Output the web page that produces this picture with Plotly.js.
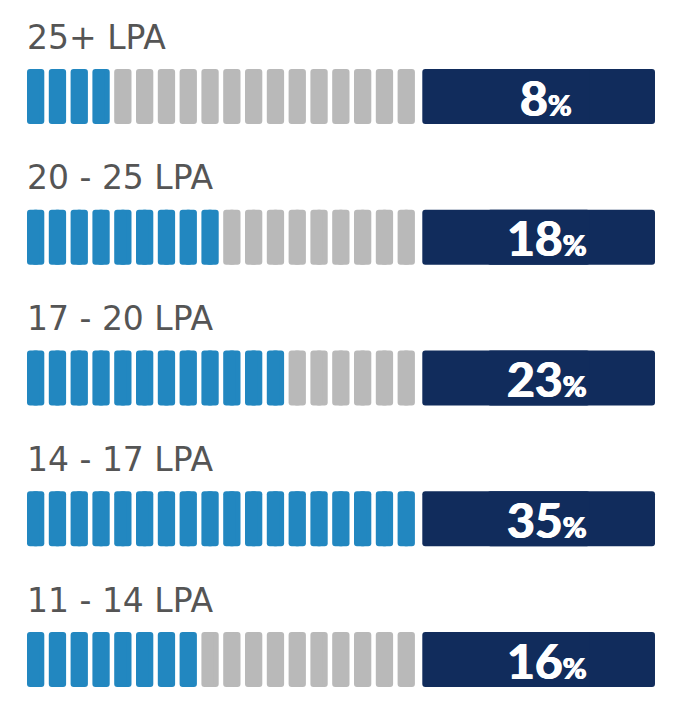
<!DOCTYPE html>
<html>
<head>
<meta charset="utf-8">
<script src="https://cdn.plot.ly/plotly-3.0.1.min.js"></script>
<style>
  html, body { margin: 0; padding: 0; background: #ffffff; }
  #chart { width: 682px; height: 717px; }
</style>
</head>
<body>
<div id="chart"></div>
<script>
// ---- data ----
const categories = ['25+ LPA', '20 - 25 LPA', '17 - 20 LPA', '14 - 17 LPA', '11 - 14 LPA'];
const percentValues = [8, 18, 23, 35, 16];
const segmentCount = 18;

// ---- styling / layout constants ----
const BLUE = '#2287c0';
const GREY = '#b9b9b9';
const NAVY = '#112c5c';
const LABEL_COLOR = '#555555';
const SEG_FILL = 0.7936;       // fraction of a segment slot that is filled
const BOX_START = 18.133;      // in segment units
const BOX_END = 28.807;
const BAR_THICK = 0.3908;      // in row units
const PIECE = 0.72;            // each of the two overlapping pieces covers this share
const RADIUS = 3;

const maxVal = Math.max(...percentValues);
const blueCounts = percentValues.map(v => Math.round(v / maxVal * segmentCount));

// each segment = two overlapping pieces, rounded at their outer ends
const rY = [], rBase = [], rLen = [], rCol = [];
const lY = [], lBase = [], lLen = [], lCol = [];
categories.forEach((c, i) => {
  for (let j = 0; j < segmentCount; j++) {
    const col = j < blueCounts[i] ? BLUE : GREY;
    const left = j, right = j + SEG_FILL;
    rY.push(i); rBase.push(right - SEG_FILL * PIECE); rLen.push(SEG_FILL * PIECE); rCol.push(col);
    lY.push(i); lBase.push(left + SEG_FILL * PIECE); lLen.push(-SEG_FILL * PIECE); lCol.push(col);
  }
});

const boxLen = BOX_END - BOX_START;
const rowIdx = categories.map((c, i) => i);

const traces = [
  { type: 'bar', orientation: 'h', y: rY, base: rBase, x: rLen, width: BAR_THICK,
    marker: { color: rCol, cornerradius: RADIUS, line: { width: 0 } }, hoverinfo: 'skip', showlegend: false },
  { type: 'bar', orientation: 'h', y: lY, base: lBase, x: lLen, width: BAR_THICK,
    marker: { color: lCol, cornerradius: RADIUS, line: { width: 0 } }, hoverinfo: 'skip', showlegend: false },
  { type: 'bar', orientation: 'h', y: rowIdx, base: rowIdx.map(() => BOX_END - boxLen * PIECE),
    x: rowIdx.map(() => boxLen * PIECE), width: BAR_THICK,
    marker: { color: NAVY, cornerradius: RADIUS, line: { width: 0 } }, hoverinfo: 'skip', showlegend: false },
  { type: 'bar', orientation: 'h', y: rowIdx, base: rowIdx.map(() => BOX_START + boxLen * PIECE),
    x: rowIdx.map(() => -boxLen * PIECE), width: BAR_THICK,
    marker: { color: NAVY, cornerradius: RADIUS, line: { width: 0 } }, hoverinfo: 'skip', showlegend: false }
];

const boxMid = (BOX_START + BOX_END) / 2;
const annotations = [];
categories.forEach((c, i) => {
  annotations.push({
    x: -0.08, y: i - 0.4227, xref: 'x', yref: 'y',
    xanchor: 'left', yanchor: 'middle', showarrow: false,
    text: c,
    font: { family: 'DejaVu Sans', size: 33, color: LABEL_COLOR }
  });
  annotations.push({
    x: boxMid + 0.35, y: i + 0.004, xref: 'x', yref: 'y',
    xanchor: 'center', yanchor: 'middle', showarrow: false,
    text: '<b>' + percentValues[i] + '</b><span style="font-size:29px;font-weight:bold">%</span>',
    font: { family: 'Lato', size: 48, weight: 900, color: '#ffffff',
            shadow: '0.7px 0 0 #ffffff, -0.7px 0 0 #ffffff' }
  });
});

const layout = {
  width: 682, height: 717,
  margin: { l: 0, r: 0, t: 0, b: 0, pad: 0 },
  paper_bgcolor: '#ffffff', plot_bgcolor: '#ffffff',
  barmode: 'overlay',
  showlegend: false,
  xaxis: { range: [-27 / 21.8, 655 / 21.8], visible: false, fixedrange: true },
  yaxis: { range: [4.4085, -0.6856], visible: false, fixedrange: true },
  annotations: annotations
};

Plotly.newPlot('chart', traces, layout, { displayModeBar: false, staticPlot: true });
</script>
</body>
</html>
